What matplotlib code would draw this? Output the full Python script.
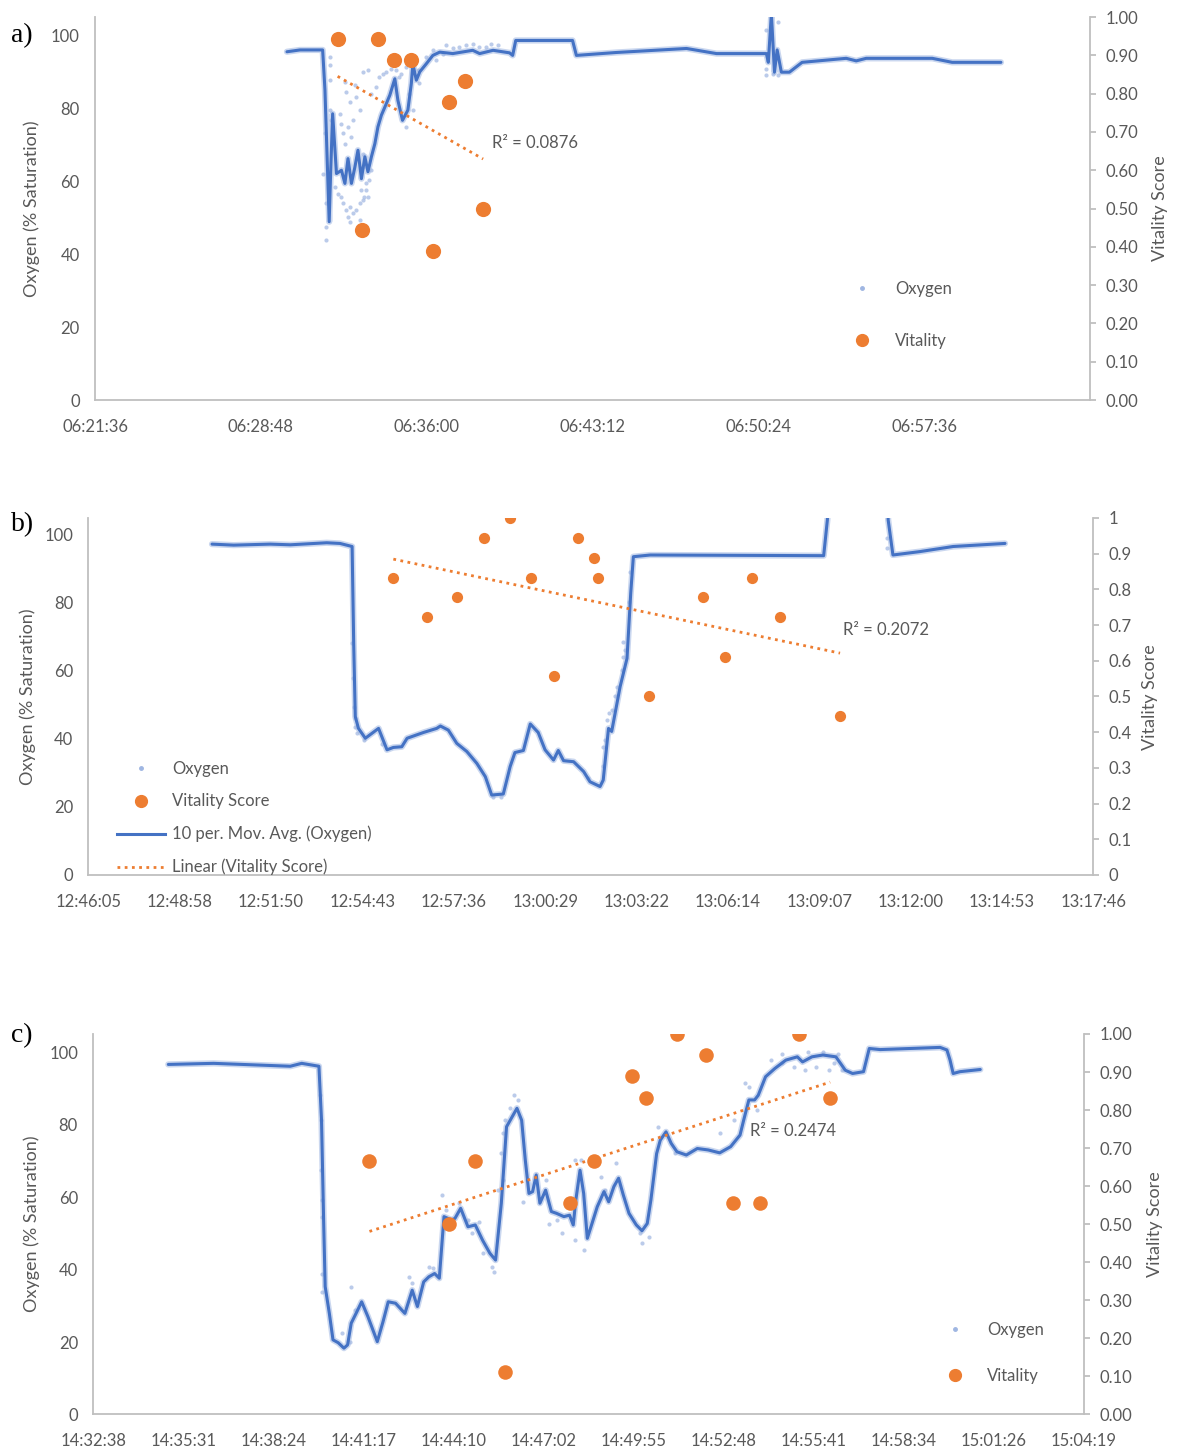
import matplotlib
matplotlib.use("Agg")
import matplotlib.pyplot as plt
import numpy as np
from matplotlib.lines import Line2D

plt.rcParams["font.family"] = ["Lato", "DejaVu Sans"]

GREY = "#595959"
AXIS = "#BFBFBF"
BLUE = "#4472C4"
LIGHT = "#9FB6E2"
ORANGE = "#ED7D31"

# ---------------- panel a ----------------
A_XTICKS = ["06:21:36", "06:28:48", "06:36:00", "06:43:12", "06:50:24", "06:57:36"]
A_XMAX = "07:04:48"
A_MA = [("06:29:56", 95.5), ("06:30:30", 96.0), ("06:31:29", 96.0), ("06:31:35", 85.0),
        ("06:31:46", 48.9), ("06:31:50", 63.0), ("06:31:55", 78.5), ("06:32:05", 62.1),
        ("06:32:18", 63.0), ("06:32:27", 59.4), ("06:32:35", 66.2), ("06:32:44", 59.4),
        ("06:32:53", 63.9), ("06:33:01", 68.5), ("06:33:10", 60.7), ("06:33:19", 66.7),
        ("06:33:27", 62.6), ("06:33:36", 66.7), ("06:33:45", 70.3), ("06:33:53", 74.9),
        ("06:34:02", 78.1), ("06:34:15", 81.3), ("06:34:24", 83.6), ("06:34:37", 88.1),
        ("06:34:45", 82.2), ("06:34:57", 76.7), ("06:35:11", 79.5), ("06:35:20", 86.8),
        ("06:35:24", 92.2), ("06:35:33", 87.7), ("06:35:42", 90.0), ("06:35:59", 92.2),
        ("06:36:16", 94.5), ("06:36:34", 95.4), ("06:37:08", 95.0), ("06:38:00", 95.9),
        ("06:38:18", 95.0), ("06:38:53", 95.9), ("06:39:36", 95.2), ("06:39:44", 94.5),
        ("06:39:52", 98.6), ("06:42:20", 98.6), ("06:42:30", 94.5), ("06:44:14", 95.3),
        ("06:47:17", 96.4), ("06:48:35", 95.0), ("06:50:45", 95.0), ("06:50:50", 92.6),
        ("06:50:58", 106.0), ("06:51:06", 89.9), ("06:51:13", 96.0), ("06:51:24", 89.9),
        ("06:51:45", 89.9), ("06:52:18", 92.6), ("06:54:13", 93.7), ("06:54:39", 93.0),
        ("06:55:05", 93.7), ("06:57:57", 93.7), ("06:58:49", 92.6), ("07:00:56", 92.6)]
A_DOTS = [("06:31:47", 94.1), ("06:31:47", 91.8), ("06:31:47", 87.7), ("06:31:34", 73.1),
          ("06:31:30", 62.1), ("06:31:39", 53.9), ("06:31:39", 47.5), ("06:31:39", 43.9),
          ("06:31:47", 79.5), ("06:31:52", 76.7), ("06:32:26", 87.2), ("06:32:31", 84.5),
          ("06:32:39", 81.7), ("06:32:52", 86.3), ("06:32:57", 83.1), ("06:33:05", 79.5),
          ("06:33:14", 90.0), ("06:33:27", 90.4), ("06:33:36", 84.0), ("06:33:49", 85.9),
          ("06:33:57", 88.6), ("06:34:06", 89.5), ("06:34:15", 90.0), ("06:34:28", 90.9),
          ("06:34:41", 90.4), ("06:34:54", 89.5), ("06:32:00", 58.5), ("06:32:09", 56.6),
          ("06:32:18", 55.7), ("06:32:22", 53.9), ("06:32:31", 52.1), ("06:32:35", 50.2),
          ("06:32:39", 53.0), ("06:32:48", 51.2), ("06:32:57", 52.1), ("06:33:05", 53.9),
          ("06:33:14", 54.8), ("06:33:18", 55.7), ("06:33:23", 57.6), ("06:33:27", 55.7),
          ("06:33:10", 57.6), ("06:32:39", 48.9), ("06:33:05", 49.3), ("06:32:18", 75.8),
          ("06:32:22", 73.1), ("06:32:35", 74.9), ("06:32:44", 72.2), ("06:32:48", 76.7),
          ("06:32:13", 78.5), ("06:32:26", 70.3), ("06:33:14", 64.0), ("06:33:23", 59.4),
          ("06:33:31", 60.3), ("06:33:36", 63.0), ("06:33:14", 67.6), ("06:35:07", 74.9),
          ("06:35:15", 84.0), ("06:35:24", 79.5), ("06:35:37", 90.4), ("06:35:41", 86.8),
          ("06:35:07", 91.3), ("06:34:49", 88.6), ("06:35:59", 94.1), ("06:36:16", 95.9),
          ("06:36:51", 97.3), ("06:37:08", 96.4), ("06:37:25", 96.8), ("06:37:43", 97.3),
          ("06:38:00", 97.7), ("06:38:17", 96.8), ("06:38:35", 96.8), ("06:38:48", 97.7),
          ("06:39:05", 97.3), ("06:36:25", 93.2), ("06:36:42", 95.0), ("06:50:44", 101.4),
          ("06:51:14", 103.7), ("06:50:44", 90.9), ("06:50:44", 89.0), ("06:51:01", 89.5),
          ("06:51:16", 89.0)]
A_VIT_TIME = ["06:32:08", "06:33:12", "06:33:53", "06:34:35", "06:35:18",
              "06:36:16", "06:36:57", "06:37:39", "06:38:27"]
A_VIT = [0.944, 0.444, 0.944, 0.889, 0.889, 0.389, 0.778, 0.833, 0.5]
A_R2 = "R\u00b2 = 0.0876"

# ---------------- panel b ----------------
B_XTICKS = ["12:46:05", "12:48:58", "12:51:50", "12:54:43", "12:57:36", "13:00:29",
            "13:03:22", "13:06:14", "13:09:07", "13:12:00", "13:14:53", "13:17:46"]
B_MA = [("12:49:59", 97.3), ("12:50:40", 97.0), ("12:51:49", 97.3), ("12:52:27", 97.1),
        ("12:53:36", 97.7), ("12:54:01", 97.5), ("12:54:24", 96.6), ("12:54:27", 68.1),
        ("12:54:30", 46.6), ("12:54:36", 43.1), ("12:54:49", 40.2), ("12:55:14", 43.1),
        ("12:55:30", 36.8), ("12:55:42", 37.5), ("12:55:58", 37.7), ("12:56:08", 40.2),
        ("12:56:39", 41.9), ("12:57:04", 43.1), ("12:57:11", 43.8), ("12:57:26", 42.6),
        ("12:57:42", 38.7), ("12:58:01", 36.3), ("12:58:20", 32.8), ("12:58:36", 28.9),
        ("12:58:48", 23.5), ("12:59:10", 23.8), ("12:59:23", 31.9), ("12:59:32", 36.0),
        ("12:59:48", 36.6), ("13:00:01", 44.4), ("13:00:16", 41.9), ("13:00:29", 36.8),
        ("13:00:45", 33.8), ("13:00:54", 36.6), ("13:01:04", 33.6), ("13:01:23", 33.3),
        ("13:01:42", 30.4), ("13:01:54", 27.4), ("13:02:13", 26.0), ("13:02:19", 27.9),
        ("13:02:29", 43.1), ("13:02:35", 42.2), ("13:02:51", 55.4), ("13:03:04", 63.7),
        ("13:03:11", 82.8), ("13:03:16", 93.6), ("13:03:48", 94.1), ("13:09:16", 93.9),
        ("13:09:23", 104.4), ("13:09:26", 115.0), ("13:11:16", 115.0), ("13:11:18", 104.4),
        ("13:11:27", 94.1), ("13:12:18", 95.1), ("13:13:21", 96.6), ("13:14:59", 97.5)]
B_DOTS = [("12:54:24", 68.1), ("12:54:25", 57.9), ("12:54:27", 49.5), ("12:54:29", 46.1),
          ("12:54:30", 43.6), ("12:54:33", 41.7), ("12:54:46", 39.7), ("13:02:57", 68.6),
          ("13:03:01", 66.2), ("13:02:57", 64.2), ("13:02:54", 60.3), ("13:02:45", 55.4),
          ("13:02:42", 52.5), ("13:02:35", 48.5), ("13:02:29", 47.5), ("13:02:26", 45.6),
          ("13:02:23", 39.7), ("13:02:19", 37.7), ("13:02:19", 31.9), ("13:03:10", 89.2),
          ("13:03:08", 80.4), ("13:11:15", 99.0), ("13:11:15", 96.1), ("12:58:50", 22.8),
          ("12:59:05", 23.0), ("12:55:20", 38.5), ("13:01:50", 28.5)]
B_VIT_TIME = ["12:55:42", "12:56:45", "12:57:42", "12:58:33", "12:59:22", "13:00:02",
              "13:00:46", "13:01:31", "13:02:02", "13:02:09", "13:03:45", "13:05:27",
              "13:06:10", "13:07:01", "13:07:54", "13:09:47"]
B_VIT = [0.833, 0.722, 0.778, 0.944, 1.0, 0.833, 0.556, 0.944,
         0.889, 0.833, 0.5, 0.778, 0.611, 0.833, 0.722, 0.444]
B_R2 = "R\u00b2 = 0.2072"

# ---------------- panel c ----------------
C_XTICKS = ["14:32:38", "14:35:31", "14:38:24", "14:41:17", "14:44:10", "14:47:02",
            "14:49:55", "14:52:48", "14:55:41", "14:58:34", "15:01:26", "15:04:19"]
C_MA = [("14:35:02", 96.6), ("14:36:29", 96.9), ("14:38:56", 96.1), ("14:39:18", 96.9),
        ("14:39:51", 96.1), ("14:39:56", 81.2), ("14:40:00", 53.7), ("14:40:03", 35.3),
        ("14:40:11", 27.9), ("14:40:18", 20.6), ("14:40:28", 19.8), ("14:40:39", 18.3),
        ("14:40:46", 19.2), ("14:40:53", 25.2), ("14:41:04", 28.4), ("14:41:13", 31.1),
        ("14:41:25", 27.0), ("14:41:43", 20.1), ("14:41:54", 25.6), ("14:42:04", 31.1),
        ("14:42:18", 30.7), ("14:42:36", 27.9), ("14:42:50", 34.3), ("14:43:00", 29.8),
        ("14:43:12", 36.6), ("14:43:22", 38.0), ("14:43:33", 38.9), ("14:43:42", 37.6),
        ("14:43:51", 54.6), ("14:44:05", 53.7), ("14:44:12", 54.1), ("14:44:23", 56.9),
        ("14:44:37", 51.8), ("14:44:51", 52.3), ("14:45:05", 48.1), ("14:45:19", 44.5),
        ("14:45:30", 42.6), ("14:45:41", 58.3), ("14:45:51", 79.4), ("14:46:02", 82.2),
        ("14:46:11", 84.5), ("14:46:20", 81.2), ("14:46:27", 70.2), ("14:46:34", 61.0),
        ("14:46:41", 61.5), ("14:46:48", 66.1), ("14:46:55", 58.3), ("14:47:06", 61.9),
        ("14:47:17", 56.0), ("14:47:27", 55.5), ("14:47:41", 54.6), ("14:47:52", 55.0),
        ("14:47:59", 52.3), ("14:48:04", 59.2), ("14:48:12", 67.4), ("14:48:19", 61.0),
        ("14:48:26", 48.6), ("14:48:35", 52.7), ("14:48:45", 57.3), ("14:48:58", 61.5),
        ("14:49:07", 58.7), ("14:49:17", 62.9), ("14:49:26", 65.2), ("14:49:35", 60.6),
        ("14:49:46", 55.5), ("14:50:00", 52.3), ("14:50:11", 50.7), ("14:50:21", 52.7),
        ("14:50:28", 59.2), ("14:50:39", 72.0), ("14:50:46", 75.7), ("14:50:57", 78.0),
        ("14:51:07", 74.8), ("14:51:18", 72.5), ("14:51:36", 71.6), ("14:51:57", 73.4),
        ("14:52:18", 73.0), ("14:52:40", 72.2), ("14:53:01", 73.9), ("14:53:19", 77.1),
        ("14:53:26", 81.2), ("14:53:36", 86.8), ("14:53:47", 86.8), ("14:53:54", 88.1),
        ("14:54:08", 93.2), ("14:54:26", 95.5), ("14:54:47", 97.8), ("14:55:09", 98.7),
        ("14:55:19", 97.3), ("14:55:37", 98.7), ("14:55:58", 99.2), ("14:56:23", 98.7),
        ("14:56:41", 95.0), ("14:56:55", 94.1), ("14:57:16", 94.6), ("14:57:27", 101.0),
        ("14:57:48", 100.7), ("14:59:43", 101.3), ("14:59:56", 100.6), ("15:00:02", 97.8),
        ("15:00:08", 94.1), ("15:00:21", 94.6), ("15:01:00", 95.2)]
C_DOTS = [("14:46:06", 88.1), ("14:46:13", 86.8), ("14:45:58", 84.5), ("14:45:48", 81.2),
          ("14:45:44", 77.6), ("14:45:41", 72.1), ("14:45:44", 64.7), ("14:45:34", 61.9),
          ("14:43:47", 60.6), ("14:44:19", 58.3), ("14:43:54", 56.4), ("14:44:37", 53.7),
          ("14:44:58", 53.2), ("14:44:44", 50.0), ("14:45:23", 40.8), ("14:45:27", 39.4),
          ("14:45:05", 44.5), ("14:40:53", 35.3), ("14:41:00", 28.8), ("14:40:50", 20.1),
          ("14:40:35", 22.4), ("14:42:43", 38.0), ("14:42:50", 36.2), ("14:43:22", 40.8),
          ("14:43:29", 40.3), ("14:46:23", 58.7), ("14:46:30", 64.7), ("14:46:45", 65.6),
          ("14:47:06", 64.7), ("14:47:13", 52.7), ("14:47:27", 53.7), ("14:47:38", 50.0),
          ("14:48:03", 70.2), ("14:48:13", 70.2), ("14:48:03", 48.1), ("14:48:20", 45.4),
          ("14:48:52", 65.6), ("14:49:00", 61.9), ("14:49:21", 69.3), ("14:50:07", 50.0),
          ("14:50:11", 47.2), ("14:50:25", 49.1), ("14:50:42", 79.4), ("14:51:14", 72.1),
          ("14:52:40", 77.6), ("14:53:08", 81.2), ("14:53:29", 91.4), ("14:53:36", 90.4),
          ("14:53:51", 84.0), ("14:54:19", 97.8), ("14:54:40", 99.6), ("14:55:02", 96.0),
          ("14:55:30", 100.1), ("14:55:44", 96.0), ("14:55:58", 100.1), ("14:56:20", 96.9),
          ("14:56:27", 99.6), ("14:56:34", 95.0), ("14:54:40", 96.9), ("14:55:23", 95.0),
          ("14:56:09", 95.0), ("14:39:54", 88.2), ("14:39:55", 81.3), ("14:39:55", 67.4),
          ("14:39:56", 59.2), ("14:39:56", 54.6), ("14:39:57", 38.9), ("14:39:57", 33.8)]
C_VIT_TIME = ["14:41:28", "14:44:01", "14:44:51", "14:45:48", "14:47:52", "14:48:39",
              "14:49:51", "14:50:19", "14:51:18", "14:52:14", "14:53:06", "14:53:57",
              "14:55:12", "14:56:12"]
C_VIT = [0.667, 0.5, 0.667, 0.111, 0.556, 0.667, 0.889, 0.833,
         1.0, 0.944, 0.556, 0.556, 1.0, 0.833]
C_R2 = "R\u00b2 = 0.2474"


def to_sec(hms):
    h, m, s = (int(x) for x in hms.split(":"))
    return h * 3600 + m * 60 + s


def unzip(pairs):
    t = np.array([to_sec(p[0]) for p in pairs], dtype=float)
    v = np.array([p[1] for p in pairs], dtype=float)
    return t, v


def draw_panel(rect, xticks, xmax, ma, dots, vit_time, vit, r2, r2_at,
               vit_size, right_fmt, names, legend_kw, labels, letter):
    ax = fig.add_axes(rect)
    ax2 = ax.twinx()

    t_ma, v_ma = unzip(ma)
    t_dot, v_dot = unzip(dots)
    t_vit = np.array([to_sec(x) for x in vit_time], dtype=float)
    v_vit = np.array(vit)

    # raw oxygen readings + 10 point moving average
    ax.scatter(t_dot, v_dot, s=9, color=LIGHT, alpha=0.7, lw=0, zorder=2)
    ax.plot(t_ma, v_ma, color=LIGHT, lw=4.5, alpha=0.55, zorder=2,
            solid_capstyle="round", solid_joinstyle="round")
    ax.plot(t_ma, v_ma, color=BLUE, lw=2.2, zorder=3,
            solid_capstyle="round", solid_joinstyle="round")

    # vitality on the secondary axis with linear trend
    ax2.scatter(t_vit, v_vit, s=vit_size, color=ORANGE, lw=0, zorder=4)
    k, b = np.polyfit(t_vit, v_vit, 1)
    tt = np.array([t_vit.min(), t_vit.max()])
    ax2.plot(tt, k * tt + b, color=ORANGE, lw=2, linestyle=(0, (1, 1.6)), zorder=4)
    ax.text(to_sec(r2_at[0]), r2_at[1], r2, fontsize=12, color=GREY,
            ha="left", va="center")

    x0 = to_sec(xticks[0])
    step = (to_sec(xticks[-1]) - x0) / (len(xticks) - 1)
    ticks = [x0 + i * step for i in range(len(xticks))]
    ax.set_xlim(x0, to_sec(xmax))
    ax.set_xticks(ticks)
    ax.set_xticklabels(xticks)
    ax.set_ylim(0, 105)
    ax.set_yticks(range(0, 101, 20))
    ax2.set_ylim(0, 1.0)
    ax2.set_yticks(np.arange(0, 1.01, 0.1))
    ax2.set_yticklabels([right_fmt(v) for v in np.arange(0, 1.01, 0.1)])

    for a in (ax, ax2):
        for s in a.spines.values():
            s.set_visible(False)
    ax.spines["left"].set_visible(True)
    ax.spines["bottom"].set_visible(True)
    ax2.spines["right"].set_visible(True)
    for s in (ax.spines["left"], ax.spines["bottom"], ax2.spines["right"]):
        s.set_color(AXIS)
        s.set_linewidth(1.3)
    ax.tick_params(axis="y", length=0, pad=11, labelsize=12, labelcolor=GREY)
    ax.tick_params(axis="x", length=0, pad=13.5, labelsize=12, labelcolor=GREY)
    ax2.tick_params(axis="y", length=4, width=1.3, color=AXIS, pad=7,
                    labelsize=12, labelcolor=GREY)

    handles = [Line2D([], [], ls="none", marker="o", ms=2.5, color=LIGHT),
               Line2D([], [], ls="none", marker="o", ms=8.5, color=ORANGE),
               Line2D([], [], color=BLUE, lw=2.2),
               Line2D([], [], color=ORANGE, lw=2, linestyle=(0, (1, 1.6)))][:len(names)]
    leg = ax2.legend(handles, names, loc="center left", frameon=False,
                     borderpad=0, borderaxespad=0, fontsize=12, **legend_kw)
    for txt in leg.get_texts():
        txt.set_color(GREY)

    fig.text(labels[0][0], labels[0][1], "Oxygen (% Saturation)", rotation=90,
             ha="center", va="center", fontsize=13, color=GREY)
    fig.text(labels[1][0], labels[1][1], "Vitality Score", rotation=90,
             ha="center", va="center", fontsize=13, color=GREY)
    fig.text(labels[2][0], labels[2][1], letter, ha="center", va="center",
             fontsize=20, family="Liberation Serif", color="black")
    return ax, ax2


fig = plt.figure(figsize=(11.79, 14.5), dpi=100)

draw_panel([0.0806, 0.7241, 0.8439, 0.2641], A_XTICKS, A_XMAX, A_MA, A_DOTS,
           A_VIT_TIME, A_VIT, A_R2, ("06:38:49", 70.4), 120,
           lambda v: f"{v:.2f}",
           ["Oxygen", "Vitality"],
           dict(bbox_to_anchor=(0.754, 0.222), handlelength=2.0,
                handletextpad=1.0, labelspacing=2.14),
           [(0.0271, 0.8562), (0.9839, 0.8562), (0.0187, 0.9752)], "a)")

draw_panel([0.0749, 0.3966, 0.8524, 0.2462], B_XTICKS, B_XTICKS[-1], B_MA, B_DOTS,
           B_VIT_TIME, B_VIT, B_R2, ("13:09:53", 72.1), 65,
           lambda v: f"{v:.1f}".rstrip("0").rstrip(".") if v > 0 else "0",
           ["Oxygen", "Vitality Score", "10 per. Mov. Avg. (Oxygen)",
            "Linear (Vitality Score)"],
           dict(bbox_to_anchor=(0.0286, 0.159), handlelength=2.87,
                handletextpad=0.42, labelspacing=0.99),
           [(0.0238, 0.5193), (0.9754, 0.5193), (0.0187, 0.6379)], "b)")

draw_panel([0.0791, 0.0245, 0.8403, 0.2624], C_XTICKS, C_XTICKS[-1], C_MA, C_DOTS,
           C_VIT_TIME, C_VIT, C_R2, ("14:53:38", 78.1), 110,
           lambda v: f"{v:.2f}",
           ["Oxygen", "Vitality"],
           dict(bbox_to_anchor=(0.853, 0.162), handlelength=2.0,
                handletextpad=0.92, labelspacing=1.8),
           [(0.0271, 0.1559), (0.9796, 0.1559), (0.0187, 0.2855)], "c)")

fig.savefig("out.png", dpi=100)
